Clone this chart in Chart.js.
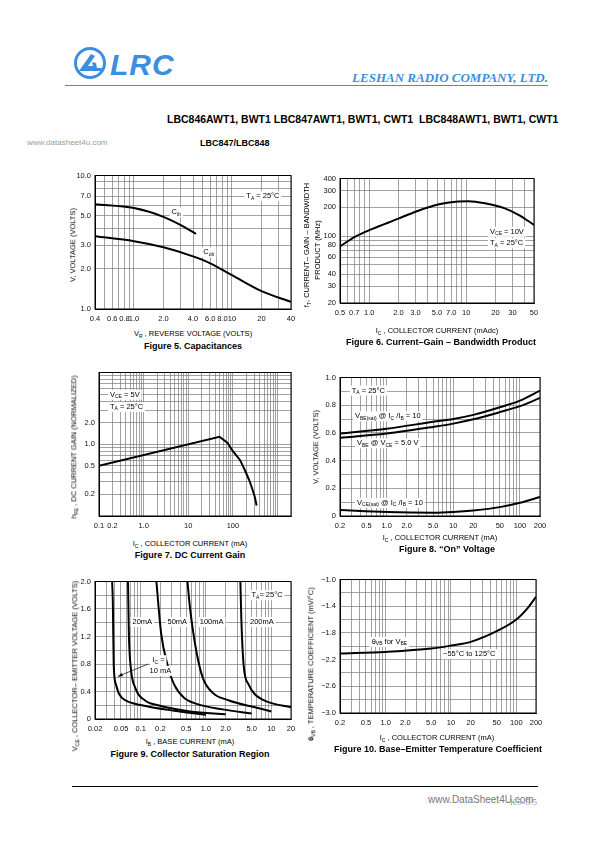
<!DOCTYPE html>
<html>
<head>
<meta charset="utf-8">
<script src="https://cdn.jsdelivr.net/npm/chart.js@4.4.1/dist/chart.umd.min.js"></script>
<style>
  body { margin: 0; width: 595px; height: 842px; position: relative; overflow: hidden; background: #fff;
         font-family: "Liberation Sans", Arial, sans-serif; color: #000; }
  .t { position: absolute; white-space: nowrap; line-height: 1; }
  .cap { font-weight: bold; font-size: 9px; transform: translateX(-50%); }
  .xt { font-size: 7.5px; transform: translateX(-50%); }
  .yt { font-size: 7.5px; transform: translate(-50%, -50%) rotate(-90deg); }
  sub { font-size: 5px; vertical-align: -1.5px; line-height: 0; }
  canvas { position: absolute; }
</style>
</head>
<body>

<!-- header -->
<svg class="t" style="left:72px;top:46px" width="38" height="36" viewBox="0 0 38 36">
  <circle cx="18" cy="17" r="14.5" fill="none" stroke="#3b8fe0" stroke-width="3"/>
  <path d="M7 25 L19 8 L23 10 L16 20 L21 20 L20 16 L24 17 L25 22 L30 22 L29 25 Z" fill="#3b8fe0"/>
</svg>
<div class="t" style="left:110px;top:50px;font-size:30px;font-weight:bold;font-style:italic;color:#3b8fe0;letter-spacing:1px">LRC</div>
<div class="t" style="right:47px;top:71px;font-family:'Liberation Serif','Times New Roman',serif;font-style:italic;font-weight:bold;font-size:13px;color:#3b8fe0">LESHAN RADIO COMPANY, LTD.</div>
<div class="t" style="left:65px;top:85px;width:483px;height:1px;background:#3b8fe0"></div>
<div class="t" style="left:167px;top:114px;font-size:10.5px;font-weight:bold">LBC846AWT1, BWT1 LBC847AWT1, BWT1, CWT1&nbsp; LBC848AWT1, BWT1, CWT1</div>
<div class="t" style="left:27px;top:139px;font-size:8px;color:#9a9a9a">www.datasheet4u.com</div>
<div class="t" style="left:200px;top:139px;font-size:9px;font-weight:bold">LBC847/LBC848</div>

<!-- figure 5 -->
<canvas id="c5"></canvas>
<div class="t yt" style="left:73px;top:245px">V, VOLTAGE (VOLTS)</div>
<div class="t xt" style="left:193px;top:330px">V<sub>R</sub> , REVERSE VOLTAGE (VOLTS)</div>
<div class="t cap" style="left:193px;top:342px">Figure 5. Capacitances</div>

<!-- figure 6 -->
<canvas id="c6"></canvas>
<div class="t yt" style="left:307px;top:245px">f<sub>T</sub>, CURRENT– GAIN – BANDWIDTH</div>
<div class="t yt" style="left:318px;top:250px">PRODUCT (MHz)</div>
<div class="t xt" style="left:437px;top:327px">I<sub>C</sub> , COLLECTOR CURRENT (mAdc)</div>
<div class="t cap" style="left:441px;top:338px">Figure 6. Current–Gain – Bandwidth Product</div>

<!-- figure 7 -->
<canvas id="c7"></canvas>
<div class="t yt" style="left:74px;top:447px">h<sub>FE</sub> , DC CURRENT GAIN (NORMALIZED)</div>
<div class="t xt" style="left:190px;top:540px">I<sub>C</sub> , COLLECTOR CURRENT (mA)</div>
<div class="t cap" style="left:190px;top:551px">Figure 7. DC Current Gain</div>

<!-- figure 8 -->
<canvas id="c8"></canvas>
<div class="t yt" style="left:316px;top:447px">V, VOLTAGE (VOLTS)</div>
<div class="t xt" style="left:440px;top:534px">I<sub>C</sub> , COLLECTOR CURRENT (mA)</div>
<div class="t cap" style="left:447px;top:545px">Figure 8. “On” Voltage</div>

<!-- figure 9 -->
<canvas id="c9"></canvas>
<div class="t yt" style="left:75px;top:666px">V<sub>CE</sub> , COLLECTOR– EMITTER VOLTAGE (VOLTS)</div>
<div class="t xt" style="left:190px;top:738px">I<sub>B</sub> , BASE CURRENT (mA)</div>
<div class="t cap" style="left:190px;top:750px">Figure 9. Collector Saturation Region</div>

<!-- figure 10 -->
<canvas id="c10"></canvas>
<div class="t yt" style="left:311px;top:664px"><b>θ</b><sub>VB</sub> , TEMPERATURE COEFFICIENT (mV/°C)</div>
<div class="t xt" style="left:437px;top:734px">I<sub>C</sub> , COLLECTOR CURRENT (mA)</div>
<div class="t cap" style="left:438px;top:745px">Figure 10. Base–Emitter Temperature Coefficient</div>

<!-- footer -->
<div class="t" style="left:72px;top:786px;width:466px;height:1px;background:#000"></div>
<div class="t" style="left:510px;top:798px;font-family:'Liberation Serif',serif;font-size:9px;color:#999">K5–5/5</div>
<div class="t" style="left:428px;top:795px;font-size:10px;color:#777">www.DataSheet4U.com</div>

<script>
// Figure 5 - capacitances
const f5CibV = [0.4, 1, 2, 3, 4.3];
const f5Cib = [6.1, 5.7, 4.9, 4.25, 3.65];
const f5CobV = [0.4, 1, 2, 4, 6, 10, 20, 40];
const f5Cob = [3.5, 3.22, 2.9, 2.48, 2.2, 1.79, 1.36, 1.13];
const f5XTicks = [0.4, 0.6, 0.8, 1, 2, 4, 6, 8, 10, 20, 40];
const f5XLabels = ['0.4', '0.6', '0.8', '1.0', '2.0', '4.0', '6.0', '8.0', '10', '20', '40'];
const f5YTicks = [1, 2, 3, 5, 7, 10];
const f5YLabels = ['1.0', '2.0', '3.0', '5.0', '7.0', '10.0'];

// Figure 6 - current gain bandwidth product
const f6Ic = [0.5, 0.72, 1.08, 2.03, 3.0, 5.25, 7.8, 10.6, 15.6, 25, 35, 50];
const f6Ft = [78, 99, 119, 153, 180, 215, 229, 231, 220, 195, 166, 131];
const f6XTicks = [0.5, 0.7, 1, 2, 3, 5, 7, 10, 20, 30, 50];
const f6XLabels = ['0.5', '0.7', '1.0', '2.0', '3.0', '5.0', '7.0', '10', '20', '30', '50'];
const f6YTicks = [20, 30, 40, 60, 80, 100, 200, 300, 400];
const f6YLabels = ['20', '30', '40', '60', '80', '100', '200', '300', '400'];

// Figure 7 - DC current gain
const f7Ic = [0.1, 50, 75, 100, 145, 190, 230, 265, 305, 340];
const f7Hfe = [0.5, 1.27, 1.05, 0.8, 0.6, 0.42, 0.32, 0.25, 0.19, 0.14];
const f7XTicks = [0.1, 0.2, 1, 10, 100];
const f7XLabels = ['0.1', '0.2', '1.0', '10', '100'];
const f7YTicks = [0.2, 0.5, 1, 2];
const f7YLabels = ['0.2', '0.5', '1.0', '2.0'];

// Figure 8 - "on" voltage
const f8Ic = [0.2, 1, 5, 10, 20, 50, 100, 200];
const f8VbeSat = [0.595, 0.63, 0.68, 0.70, 0.73, 0.785, 0.833, 0.905];
const f8Vbe = [0.564, 0.595, 0.643, 0.667, 0.698, 0.75, 0.793, 0.852];
const f8VceSat = [0.043, 0.029, 0.024, 0.029, 0.04, 0.064, 0.095, 0.138];
const f8XTicks = [0.2, 0.5, 1, 2, 5, 10, 20, 50, 100, 200];
const f8XLabels = ['0.2', '0.5', '1.0', '2.0', '5.0', '10', '20', '50', '100', '200'];
const f8YTicks = [0, 0.2, 0.4, 0.6, 0.8, 1.0];
const f8YLabels = ['0', '0.2', '0.4', '0.6', '0.8', '1.0'];

// Figure 9 - collector saturation region (one curve per Ic)
const f9Ib10 = [0.0366, 0.0375, 0.0387, 0.0419, 0.047, 0.059, 0.104, 0.326, 1.0];
const f9Vce10 = [2.0, 1.70, 0.78, 0.50, 0.36, 0.27, 0.20, 0.12, 0.06];
const f9Ib20 = [0.064, 0.066, 0.070, 0.083, 0.117, 0.185, 0.57, 2.0];
const f9Vce20 = [2.0, 1.24, 0.78, 0.45, 0.27, 0.20, 0.11, 0.07];
const f9Ib50 = [0.174, 0.206, 0.259, 0.326, 0.46, 0.72, 1.79, 5.0];
const f9Vce50 = [2.0, 1.24, 0.78, 0.50, 0.31, 0.22, 0.14, 0.08];
const f9Ib100 = [0.52, 0.57, 0.72, 0.90, 1.27, 2.25, 5.6, 10];
const f9Vce100 = [2.0, 1.61, 0.96, 0.59, 0.38, 0.27, 0.17, 0.11];
const f9Ib200 = [3.36, 3.47, 3.77, 4.5, 5.6, 8.8, 20];
const f9Vce200 = [2.0, 1.47, 0.78, 0.5, 0.36, 0.25, 0.17];
const f9XTicks = [0.02, 0.05, 0.1, 0.2, 0.5, 1, 2, 5, 10, 20];
const f9XLabels = ['0.02', '0.05', '0.1', '0.2', '0.5', '1.0', '2.0', '5.0', '10', '20'];
const f9YTicks = [0, 0.4, 0.8, 1.2, 1.6, 2.0];
const f9YLabels = ['0', '0.4', '0.8', '1.2', '1.6', '2.0'];

// Figure 10 - base-emitter temperature coefficient
const f10Ic = [0.2, 1, 5, 10, 20, 50, 100, 150, 200];
const f10Theta = [-2.11, -2.085, -2.035, -1.99, -1.935, -1.775, -1.6, -1.425, -1.26];
const f10XTicks = [0.2, 0.5, 1, 2, 5, 10, 20, 50, 100, 200];
const f10XLabels = ['0.2', '0.5', '1.0', '2.0', '5.0', '10', '20', '50', '100', '200'];
const f10YTicks = [-3.0, -2.6, -2.2, -1.8, -1.4, -1.0];
const f10YLabels = ['−3.0', '−2.6', '−2.2', '−1.8', '−1.4', '−1.0'];

const FONT = '"Liberation Sans", Arial, sans-serif';
Chart.defaults.font.family = FONT;
Chart.defaults.font.size = 7.5;
Chart.defaults.color = '#111';

// grid lines for a log axis: 1..9 in every decade
function logGrid(min, max) {
    const out = [];
    for (let e = Math.floor(Math.log10(min)); e <= Math.ceil(Math.log10(max)); e++) {
        for (let m = 1; m < 10; m++) {
            const v = +(m * Math.pow(10, e)).toPrecision(6);
            if (v >= min * 0.999 && v <= max * 1.001) out.push(v);
        }
    }
    return out;
}
function linGrid(min, max, step) {
    const out = [];
    for (let v = min; v <= max + step / 2; v += step) out.push(+v.toFixed(6));
    return out;
}
const pts = (xs, ys) => xs.map((x, i) => ({ x, y: ys[i] }));

function axis(type, min, max, grid, ticks, labels, side, size) {
    return {
        type, min, max, position: side,
        afterBuildTicks: a => { a.ticks = grid.map(v => ({ value: v })); },
        afterFit: a => { if (side === 'left') a.width = size; else a.height = size; },
        ticks: {
            autoSkip: false, maxRotation: 0, minRotation: 0, padding: side === 'left' ? 4 : 5,
            callback: v => {
                const i = ticks.findIndex(t => Math.abs(t - v) <= 1e-6 * Math.max(1, Math.abs(v)));
                return i < 0 ? '' : labels[i];
            }
        },
        grid: { color: '#7a7a7a', lineWidth: 0.7, drawTicks: false },
        border: { display: true, color: '#000', width: 1 }
    };
}

// frame + annotation text + arrows
const notesPlugin = {
    id: 'notes',
    afterDatasetsDraw(chart, args, opts) {
        const { ctx, chartArea: a, scales } = chart;
        ctx.save();
        ctx.strokeStyle = '#000';
        ctx.lineWidth = 1;
        ctx.strokeRect(a.left, a.top, a.right - a.left, a.bottom - a.top);
        const fs = 7.5, ss = 5;
        (opts.items || []).forEach(it => {
            let w = 0;
            it.parts.forEach(([t, s]) => { ctx.font = (s ? ss : fs) + 'px ' + FONT; w += ctx.measureText(t).width; });
            let x = scales.x.getPixelForValue(it.x);
            const y = scales.y.getPixelForValue(it.y);
            if (it.align === 'center') x -= w / 2;
            ctx.fillStyle = '#fff';
            ctx.fillRect(x - 2, y - 5, w + 4, 10);
            ctx.fillStyle = '#000';
            ctx.textBaseline = 'middle';
            it.parts.forEach(([t, s]) => {
                ctx.font = (s ? ss : fs) + 'px ' + FONT;
                ctx.fillText(t, x, s ? y + 2 : y);
                x += ctx.measureText(t).width;
            });
        });
        (opts.arrows || []).forEach(ar => {
            const x0 = scales.x.getPixelForValue(ar.from[0]), y0 = scales.y.getPixelForValue(ar.from[1]);
            const x1 = scales.x.getPixelForValue(ar.to[0]), y1 = scales.y.getPixelForValue(ar.to[1]);
            ctx.strokeStyle = '#000';
            ctx.lineWidth = 0.7;
            ctx.beginPath(); ctx.moveTo(x0, y0); ctx.lineTo(x1, y1); ctx.stroke();
            const ang = Math.atan2(y1 - y0, x1 - x0);
            ctx.fillStyle = '#000';
            ctx.beginPath();
            ctx.moveTo(x1, y1);
            ctx.lineTo(x1 - 5 * Math.cos(ang - 0.35), y1 - 5 * Math.sin(ang - 0.35));
            ctx.lineTo(x1 - 5 * Math.cos(ang + 0.35), y1 - 5 * Math.sin(ang + 0.35));
            ctx.closePath(); ctx.fill();
        });
        ctx.restore();
    }
};
Chart.register(notesPlugin);

const YW = 40, PT = 8, PR = 14, XH = 16;
function makeChart(id, box, xAx, yAx, series, notes, tension) {
    const cv = document.getElementById(id);
    cv.width = box.r - box.l + YW + PR;
    cv.height = box.b - box.t + PT + XH;
    cv.style.left = (box.l - YW) + 'px';
    cv.style.top = (box.t - PT) + 'px';
    return new Chart(cv, {
        type: 'line',
        data: {
            datasets: series.map(s => ({
                data: s, borderColor: '#000', borderWidth: 2, pointRadius: 0,
                tension: tension, cubicInterpolationMode: tension ? 'monotone' : 'default', fill: false
            }))
        },
        options: {
            responsive: false, animation: false, devicePixelRatio: 1,
            layout: { padding: { top: PT, right: PR, left: 0, bottom: 0 } },
            scales: { x: xAx, y: yAx },
            plugins: { legend: { display: false }, tooltip: { enabled: false }, notes }
        }
    });
}
const sub = (a, b, c) => [[a, 0], [b, 1], [c || '', 0]];

makeChart('c5', { l: 95, r: 291, t: 175, b: 309 },
    axis('logarithmic', 0.4, 40, logGrid(0.4, 40), f5XTicks, f5XLabels, 'bottom', XH),
    axis('logarithmic', 1, 10, logGrid(1, 10), f5YTicks, f5YLabels, 'left', YW),
    [pts(f5CibV, f5Cib), pts(f5CobV, f5Cob)],
    { items: [
        { x: 14, y: 7, parts: sub('T', 'A', ' = 25°C') },
        { x: 2.7, y: 5.3, parts: sub('C', 'ib'), align: 'center' },
        { x: 5.8, y: 2.66, parts: sub('C', 'ob'), align: 'center' }
    ] }, 0.4);

makeChart('c6', { l: 340, r: 534, t: 178, b: 303 },
    axis('logarithmic', 0.5, 50, logGrid(0.5, 50), f6XTicks, f6XLabels, 'bottom', XH),
    axis('logarithmic', 20, 400, logGrid(20, 400), f6YTicks, f6YLabels, 'left', YW),
    [pts(f6Ic, f6Ft)],
    { items: [
        { x: 17.6, y: 111, parts: sub('V', 'CE', ' = 10V') },
        { x: 17.6, y: 84, parts: sub('T', 'A', ' = 25°C') }
    ] }, 0.4);

makeChart('c7', { l: 99, r: 291, t: 372, b: 516 },
    axis('logarithmic', 0.1, 2000, logGrid(0.1, 2000), f7XTicks, f7XLabels, 'bottom', XH),
    axis('logarithmic', 0.1, 10, logGrid(0.1, 10), f7YTicks, f7YLabels, 'left', YW),
    [pts(f7Ic, f7Hfe)],
    { items: [
        { x: 0.176, y: 4.9, parts: sub('V', 'CE', ' = 5V') },
        { x: 0.176, y: 3.3, parts: sub('T', 'A', ' = 25°C') }
    ] }, 0);

makeChart('c8', { l: 340, r: 540, t: 377, b: 516 },
    axis('logarithmic', 0.2, 200, logGrid(0.2, 200), f8XTicks, f8XLabels, 'bottom', XH),
    axis('linear', 0, 1, linGrid(0, 1, 0.1), f8YTicks, f8YLabels, 'left', YW),
    [pts(f8Ic, f8VbeSat), pts(f8Ic, f8Vbe), pts(f8Ic, f8VceSat)],
    { items: [
        { x: 0.30, y: 0.906, parts: sub('T', 'A', ' = 25°C') },
        { x: 0.336, y: 0.72, parts: [['V', 0], ['BE(sat)', 1], [' @ I', 0], ['C', 1], [' /I', 0], ['B', 1], [' = 10', 0]] },
        { x: 0.36, y: 0.525, parts: [['V', 0], ['BE', 1], [' @ V', 0], ['CE', 1], [' = 5.0 V', 0]] },
        { x: 0.36, y: 0.094, parts: [['V', 0], ['CE(sat)', 1], [' @ I', 0], ['C', 1], [' /I', 0], ['B', 1], [' = 10', 0]] }
    ] }, 0.4);

makeChart('c9', { l: 95, r: 291, t: 581, b: 719 },
    axis('logarithmic', 0.02, 20, logGrid(0.02, 20), f9XTicks, f9XLabels, 'bottom', XH),
    axis('linear', 0, 2, linGrid(0, 2, 0.2), f9YTicks, f9YLabels, 'left', YW),
    [pts(f9Ib10, f9Vce10), pts(f9Ib20, f9Vce20), pts(f9Ib50, f9Vce50), pts(f9Ib100, f9Vce100), pts(f9Ib200, f9Vce200)],
    { items: [
        { x: 8.6, y: 1.8, parts: sub('T', 'A', '= 25°C'), align: 'center' },
        { x: 0.106, y: 1.41, parts: [['20mA', 0]], align: 'center' },
        { x: 0.364, y: 1.41, parts: [['50mA', 0]], align: 'center' },
        { x: 1.22, y: 1.41, parts: [['100mA', 0]], align: 'center' },
        { x: 7.16, y: 1.41, parts: [['200mA', 0]], align: 'center' },
        { x: 0.187, y: 0.855, parts: sub('I', 'C', ' ='), align: 'center' },
        { x: 0.2, y: 0.70, parts: [['10 mA', 0]], align: 'center' }
    ], arrows: [{ from: [0.13, 0.80], to: [0.045, 0.62] }] }, 0.4);

makeChart('c10', { l: 340, r: 536, t: 579, b: 713 },
    axis('logarithmic', 0.2, 200, logGrid(0.2, 200), f10XTicks, f10XLabels, 'bottom', XH),
    axis('linear', -3, -1, linGrid(-3, -1, 0.2), f10YTicks, f10YLabels, 'left', YW),
    [pts(f10Ic, f10Theta)],
    { items: [
        { x: 0.61, y: -1.936, parts: [['θ', 0], ['VB', 1], [' for V', 0], ['BE', 1]] },
        { x: 7.55, y: -2.12, parts: [['−55°C to 125°C', 0]] }
    ] }, 0.4);
</script>
</body>
</html>
